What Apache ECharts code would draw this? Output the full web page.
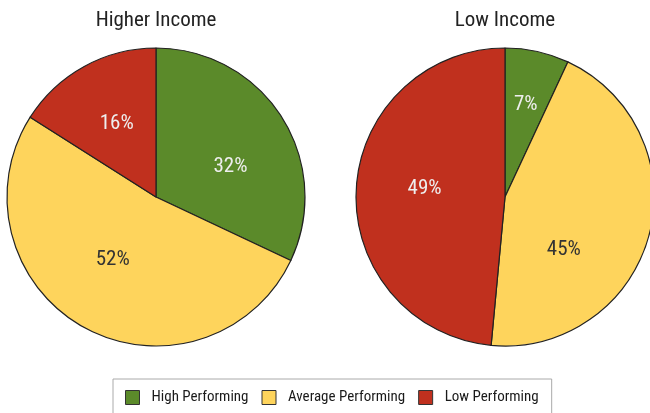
<!DOCTYPE html>
<html><head><meta charset="utf-8">
<script src="https://cdn.jsdelivr.net/npm/echarts@6/dist/echarts.min.js"></script>
<style>html,body{margin:0;padding:0;background:#fff}#c{width:650px;height:413px}</style>
</head><body><div id="c"></div>
<script>
const categories = ['High Performing', 'Average Performing', 'Low Performing'];
const higherIncome = [32, 52, 16];
const lowIncome = [7, 45, 49];
const titles = ['Higher Income', 'Low Income'];
const colors = ['#5B8A2A', '#FED45C', '#C0301E'];
const labelColors = ['#ffffff', '#333333', '#ffffff'];
const FONT = '"Liberation Sans Narrow", "Roboto Condensed", "Liberation Sans", sans-serif';

function mk(vals, center, extra) {
  return {
    type: 'pie', radius: 149, center: center, startAngle: 90, clockwise: true,
    animation: false, silent: true,
    itemStyle: { borderColor: '#222', borderWidth: 1.2 },
    label: { show: true, position: 'inside', formatter: '{c}%', fontFamily: FONT, fontSize: 21 },
    labelLine: { show: false },
    data: vals.map((v, i) => Object.assign({
      name: categories[i], value: v,
      itemStyle: { color: colors[i] },
      label: { color: labelColors[i] }
    }, (extra && extra[i]) || {}))
  };
}

const chart = echarts.init(document.getElementById('c'), null, { renderer: 'canvas' });
chart.setOption({
  animation: false,
  title: [
    { text: titles[0], left: 151, top: 5, textAlign: 'center', textStyle: { fontFamily: FONT, fontSize: 21, fontWeight: 'normal', color: '#222' } },
    { text: titles[1], left: 500, top: 5, textAlign: 'center', textStyle: { fontFamily: FONT, fontSize: 21, fontWeight: 'normal', color: '#222' } }
  ],
  legend: {
    data: categories, left: 113, top: 379, orient: 'horizontal',
    padding: [11, 13, 12, 12], itemGap: 13, itemWidth: 14, itemHeight: 14,
    borderColor: '#aaa', borderWidth: 1, icon: 'rect',
    itemStyle: { borderColor: '#333', borderWidth: 1 },
    textStyle: { fontFamily: FONT, fontSize: 15, color: '#1a1a1a', padding: [0, 0, 0, 7] },
    selectedMode: false
  },
  series: [
    mk(higherIncome, [156, 197], [ {label:{offset:[9,11]}}, {label:{offset:[-6,-5]}}, {label:{offset:[-2,-5]}} ]),
    mk(lowIncome, [505, 197], [ {label:{offset:[4,-17]}}, {label:{offset:[-16,32]}}, {label:{offset:[-3,-5]}} ])
  ]
});
</script></body></html>
